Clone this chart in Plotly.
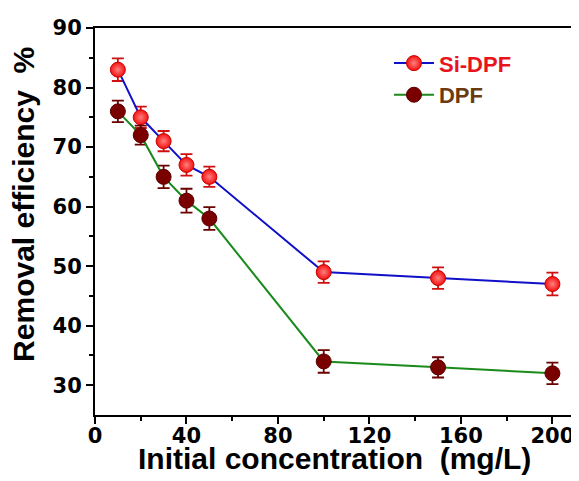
import plotly.graph_objects as go

conc = [10, 20, 30, 40, 50, 100, 150, 200]
si_dpf = [83, 75, 71, 67, 65, 49, 48, 47]
si_dpf_err = [1.9, 1.8, 1.7, 1.8, 1.7, 1.8, 1.8, 1.9]
dpf = [76, 72, 65, 61, 58, 34, 33, 32]
dpf_err = [1.8, 1.6, 1.9, 2.0, 1.9, 1.9, 1.7, 1.8]

x_ticks = [0, 40, 80, 120, 160, 200]
y_ticks = [30, 40, 50, 60, 70, 80, 90]

fig = go.Figure()
fig.add_trace(go.Scatter(
    x=conc, y=si_dpf, mode="lines+markers",
    name="<b><span style='color:#e8141c'>Si-DPF</span></b>",
    line=dict(color="#1010c8", width=2),
    marker=dict(color="#f41010", size=15, line=dict(color="#c80000", width=1),
                gradient=dict(type="radial", color="#ff8080")),
    error_y=dict(type="data", array=si_dpf_err, color="#d01010", thickness=1.8, width=6),
))
fig.add_trace(go.Scatter(
    x=conc, y=dpf, mode="lines+markers",
    name="<b><span style='color:#6b3a0e'>DPF</span></b>",
    line=dict(color="#1a8a1a", width=2),
    marker=dict(color="#7a0000", size=15, line=dict(color="#5a0000", width=1)),
    error_y=dict(type="data", array=dpf_err, color="#6a0000", thickness=1.8, width=6),
))

title_font = "Liberation Sans, Arial, sans-serif"
tick_font = "DejaVu Sans, sans-serif"
fig.update_layout(
    width=571, height=473,
    margin=dict(l=87, r=6, t=20, b=66),
    paper_bgcolor="white", plot_bgcolor="white",
    font=dict(family=title_font, size=20, color="black"),
    showlegend=True,
    legend=dict(x=0.615, y=0.963, xanchor="left", yanchor="top",
                bgcolor="rgba(0,0,0,0)", font=dict(size=22, family=title_font),
                tracegroupgap=0, itemwidth=40),
    xaxis=dict(
        range=[0, 209], tickvals=x_ticks, ticktext=[f"<b>{v}</b>" for v in x_ticks],
        showgrid=False, zeroline=False, automargin=False,
        showline=True, linecolor="black", linewidth=2, mirror=True,
        ticks="outside", ticklen=7, tickwidth=2, tickcolor="black",
        minor=dict(tickvals=[20, 60, 100, 140, 180], ticks="outside", ticklen=4, tickwidth=2, tickcolor="black"),
        tickfont=dict(size=21, family=tick_font),
        ticklabelstandoff=-6,
    ),
    yaxis=dict(
        range=[25, 90], tickvals=y_ticks, ticktext=[f"<b>{v}</b>" for v in y_ticks],
        showgrid=False, zeroline=False, automargin=False,
        showline=True, linecolor="black", linewidth=2, mirror=True,
        ticks="outside", ticklen=7, tickwidth=2, tickcolor="black",
        minor=dict(tickvals=[35, 45, 55, 65, 75, 85], ticks="outside", ticklen=4, tickwidth=2, tickcolor="black"),
        tickfont=dict(size=21, family=tick_font),
    ),
    annotations=[
        dict(text="<b>Initial concentration  (mg/L)</b>", xref="paper", yref="paper",
             x=0.5, y=-0.113, xanchor="center", yanchor="middle", showarrow=False,
             font=dict(size=30, family=title_font, color="black")),
        dict(text="<b>Removal efficiency  %</b>", xref="paper", yref="paper",
             x=-0.1485, y=0.543, xanchor="center", yanchor="middle", showarrow=False,
             textangle=-90, font=dict(size=30, family=title_font, color="black")),
    ],
)

fig.write_html("out.html")
